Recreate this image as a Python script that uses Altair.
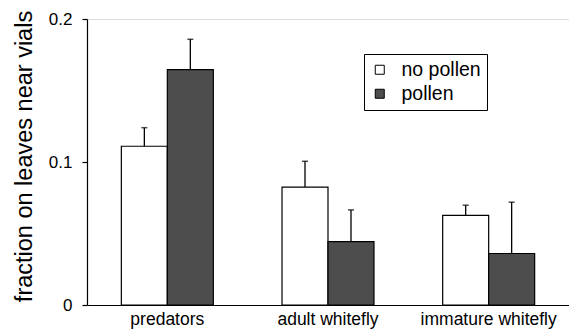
import altair as alt
import pandas as pd

groups = ["predators", "adult whitefly", "immature whitefly"]
treatments = ["no pollen", "pollen"]
no_pollen = [0.111, 0.0825, 0.0627]
no_pollen_se = [0.013, 0.018, 0.0071]
pollen = [0.1646, 0.0443, 0.036]
pollen_se = [0.0212, 0.0222, 0.0359]
y_ticks = [0, 0.1, 0.2]

rows = []
for i, g in enumerate(groups):
    rows.append(dict(group=g, treatment="no pollen", value=no_pollen[i],
                     upper=no_pollen[i] + no_pollen_se[i]))
    rows.append(dict(group=g, treatment="pollen", value=pollen[i],
                     upper=pollen[i] + pollen_se[i]))
df = pd.DataFrame(rows)

FONT = "Liberation Sans"
TITLE = "fraction on leaves near vials"

x = alt.X("group:N", sort=groups,
          scale=alt.Scale(paddingInner=0, paddingOuter=0),
          axis=alt.Axis(title=None, labelAngle=0, ticks=False, domainColor="black",
                        domainWidth=1.2, labelFontSize=17.5, labelPadding=5,
                        labelColor="black", labelFont=FONT))
xo = alt.XOffset("treatment:N", sort=treatments,
                 scale=alt.Scale(paddingInner=0, paddingOuter=0.747))
yscale = alt.Scale(domain=[0, 0.2], nice=False)
yaxis = alt.Axis(values=y_ticks, format="~g", grid=False, tickSize=5, tickColor="black",
                 tickWidth=1.2, domainColor="black", domainWidth=1.2,
                 labelFontSize=17, labelPadding=10, labelColor="black", labelFont=FONT,
                 titleFontSize=23.5, titleFontWeight="normal", titleColor="black",
                 titleFont=FONT, titlePadding=12, titleY=137)

base = alt.Chart(df)
bars = base.mark_bar(stroke="black", strokeWidth=1.2).encode(
    x=x, xOffset=xo,
    y=alt.Y("value:Q", scale=yscale, axis=yaxis, title=TITLE),
    color=alt.Color("treatment:N", sort=treatments,
                    scale=alt.Scale(domain=treatments, range=["#ffffff", "#4d4d4d"]),
                    legend=alt.Legend(title=None, orient="none", legendX=277, legendY=35,
                                      strokeColor="black", fillColor="white", padding=6,
                                      symbolType="square", symbolSize=81,
                                      symbolStrokeColor="black", symbolStrokeWidth=1,
                                      labelFontSize=19.5, labelFont=FONT, labelColor="black",
                                      labelOffset=12, rowPadding=3)),
)
rules = base.mark_rule(color="black", strokeWidth=1.3).encode(
    x=x, xOffset=xo,
    y=alt.Y("value:Q", scale=yscale, title=TITLE),
    y2="upper:Q",
)
caps = base.mark_tick(color="black", thickness=1.5, size=6, orient="horizontal").encode(
    x=x, xOffset=xo,
    y=alt.Y("upper:Q", scale=yscale, title=TITLE),
)

chart = alt.layer(bars, rules, caps).properties(
    width=482, height=286,
    padding={"left": 79, "top": 11, "right": 0, "bottom": 25},
    autosize=alt.AutoSizeParams(type="none"),
).configure_view(stroke=None).configure(font=FONT)

chart.save("out.html", embed_options={"renderer": "svg", "actions": False})
